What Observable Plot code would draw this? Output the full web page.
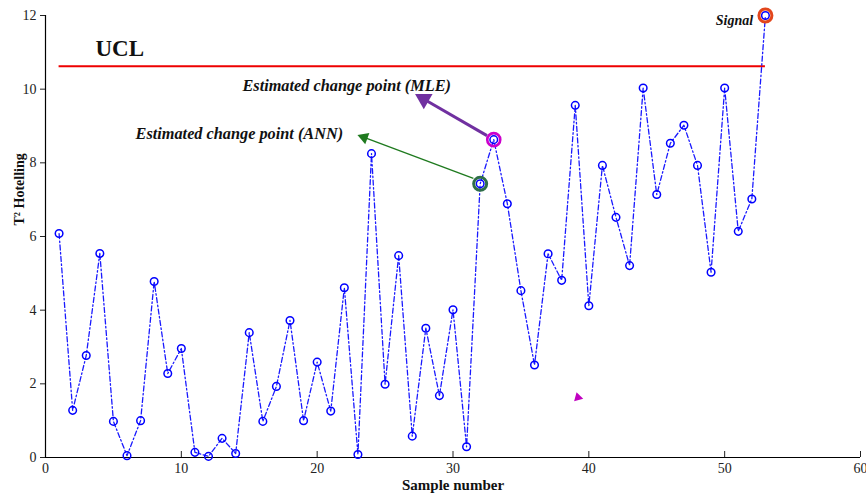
<!DOCTYPE html>
<html>
<head>
<meta charset="utf-8">
<script src="https://cdn.jsdelivr.net/npm/d3@7"></script>
<script src="https://cdn.jsdelivr.net/npm/@observablehq/plot@0.6"></script>
<style>
  html, body { margin: 0; padding: 0; background: #fff; }
  #chart svg { display: block; }
</style>
</head>
<body>
<div id="chart"></div>
<script>
const samples = d3.range(1, 54);
const t2 = [6.08, 1.28, 2.77, 5.54, 0.98, 0.05, 1.0, 4.78, 2.28, 2.96,
            0.14, 0.03, 0.52, 0.11, 3.39, 0.98, 1.93, 3.72, 1.0, 2.59,
            1.26, 4.61, 0.08, 8.25, 1.99, 5.48, 0.58, 3.51, 1.68, 4.01,
            0.29, 7.43, 8.63, 6.89, 4.53, 2.51, 5.53, 4.81, 9.56, 4.12,
            7.93, 6.52, 5.21, 10.03, 7.14, 8.53, 9.02, 7.93, 5.03, 10.03,
            6.14, 7.02, 12.0];
const xTicks = [0, 10, 20, 30, 40, 50, 60];
const yTicks = [0, 2, 4, 6, 8, 10, 12];
const ucl = 10.62;
const uclRange = [1, 53];

// highlighted samples
const annIndex = 32;   // ANN estimated change point
const mleIndex = 33;   // MLE estimated change point
const signalIndex = 53;

// annotation labels
const labelTexts = ["UCL", "Estimated change point (MLE)", "Estimated change point (ANN)", "Signal"];
const labelX = [3.68, 14.5, 6.63, 52.1];
const labelY = [11.1, 10.1, 8.8, 11.87];
const xLabel = "Sample number";
const yLabel = "T² Hotelling";

// arrows: [x1, y1, x2, y2], head position and direction
const mleArrow = [32.5, 8.74, 27.9, 9.72];
const mleHead = [27.85, 9.73, -60];
const annArrow = [31.5, 7.58, 23.6, 8.67];
const annHead = [23.45, 8.69, -70];
const strayMark = [39.2, 1.63, 225];

const data = samples.map((s, i) => ({x: s, y: t2[i]}));
const pick = (n) => [data[n - 1]];

const serif = "'Liberation Serif', 'DejaVu Serif', serif";

const chart = Plot.plot({
  width: 866,
  height: 500,
  marginLeft: 45,
  marginRight: 6,
  marginTop: 15,
  marginBottom: 43,
  style: {fontFamily: serif, background: "#fff"},
  x: {domain: [0, 60]},
  y: {domain: [0, 12]},
  marks: [
    Plot.axisY({ticks: yTicks, tickSize: 5, fontSize: 14, color: "#222", label: null}),
    Plot.axisX({ticks: xTicks, tickSize: -6, tickPadding: 12, fontSize: 14, color: "#222", label: null}),
    Plot.text([xLabel], {frameAnchor: "bottom", dy: 32, text: d => d, fontSize: 15,
      fontWeight: "bold", fill: "#111"}),
    Plot.text([yLabel], {frameAnchor: "left", dx: -26, dy: -11, rotate: -90, text: d => d,
      fontSize: 14, fontWeight: "bold", fill: "#111"}),
    Plot.ruleX([0], {stroke: "#000", strokeWidth: 1.2}),
    Plot.ruleY([0], {stroke: "#000", strokeWidth: 1.2}),
    Plot.ruleY([ucl], {x1: uclRange[0], x2: uclRange[1], stroke: "#ee0000", strokeWidth: 2}),
    Plot.line(data, {x: "x", y: "y", stroke: "#0000ff", strokeWidth: 1.3,
      strokeDasharray: "5,2.5,1.5,2.5", strokeOpacity: 0.9}),
    Plot.dot(data, {x: "x", y: "y", r: 3.8, stroke: "#0000ff", strokeWidth: 1.5, fill: "none"}),
    Plot.dot(pick(mleIndex), {x: "x", y: "y", r: 6.5, stroke: "#cc00cc", strokeWidth: 2.6, fill: "none"}),
    Plot.dot(pick(annIndex), {x: "x", y: "y", r: 6.5, stroke: "#2f6e48", strokeWidth: 3, fill: "none"}),
    Plot.dot(pick(signalIndex), {x: "x", y: "y", r: 6.5, stroke: "#e2461c", strokeWidth: 3, fill: "none"}),
    Plot.link([mleArrow], {x1: d => d[0], y1: d => d[1], x2: d => d[2], y2: d => d[3],
      stroke: "#7030a0", strokeWidth: 3}),
    Plot.dot([mleHead], {x: d => d[0], y: d => d[1], rotate: d => d[2], symbol: "triangle",
      r: 6.5, fill: "#7030a0"}),
    Plot.link([annArrow], {x1: d => d[0], y1: d => d[1], x2: d => d[2], y2: d => d[3],
      stroke: "#1f7a1f", strokeWidth: 1.4}),
    Plot.dot([annHead], {x: d => d[0], y: d => d[1], rotate: d => d[2], symbol: "triangle",
      r: 4.5, fill: "#1f7a1f"}),
    Plot.dot([strayMark], {x: d => d[0], y: d => d[1], rotate: d => d[2], symbol: "triangle",
      r: 3.5, fill: "#c000c0"}),
    Plot.text([0], {x: i => labelX[i], y: i => labelY[i], text: i => labelTexts[i],
      fontSize: 23, fontWeight: "bold", textAnchor: "start", fill: "#111"}),
    Plot.text([1, 2], {x: i => labelX[i], y: i => labelY[i], text: i => labelTexts[i],
      fontSize: 16.3, fontWeight: "bold", fontStyle: "italic", textAnchor: "start", fill: "#111"}),
    Plot.text([3], {x: i => labelX[i], y: i => labelY[i], text: i => labelTexts[i],
      fontSize: 14, fontWeight: "bold", fontStyle: "italic", textAnchor: "end", fill: "#111"})
  ]
});
document.getElementById("chart").appendChild(chart);
</script>
</body>
</html>
